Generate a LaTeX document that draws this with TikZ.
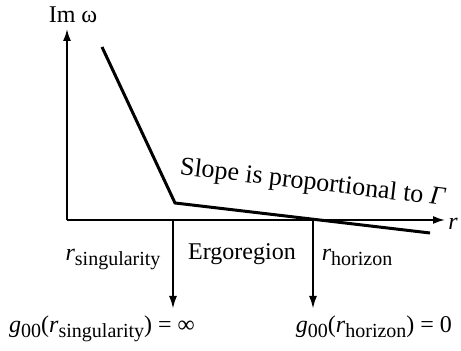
\documentclass[tikz,border=0pt]{standalone}
\usepackage{fontspec}
\setmainfont{Liberation Serif}
\usepackage{tikz}
\usetikzlibrary{arrows.meta}
\newcommand{\lowsub}[1]{\raisebox{-0.45ex}{\fontsize{10}{12}\selectfont #1}}

\begin{document}
\begin{tikzpicture}[x=0.5pt,y=0.5pt,
    axis/.style={line width=0.9pt,-{Latex[length=6pt,width=4pt]}},
    curve/.style={line width=1.5pt},
    drop/.style={line width=1.1pt,-{Latex[length=6.5pt,width=4pt]}},
    lbl/.style={font=\fontsize{12}{14}\selectfont,inner sep=0pt}]
  \useasboundingbox (0,0) rectangle (461,351);
  % axes
  \coordinate (o) at (67,131);
  \coordinate (ytip) at (67,322);
  \coordinate (xtip) at (445,131);
  \draw[axis] (o)--(ytip);
  \draw[axis] (o)--(xtip);
  \node[lbl] (imw) at (73,336) {Im ω};
  \node[lbl] (rax) at (453,127) {\textit{r}};
  % the bent line
  \coordinate (top) at (102,304);
  \coordinate (bend) at (175,148);
  \coordinate (tail) at (430,118);
  \draw[curve] (top)--(bend)--(tail);
  \node[lbl,font=\fontsize{13}{15}\selectfont,anchor=base,rotate=-6.7] (slope) at (312,161) {Slope is proportional to \textit{Γ}};
  % singularity and horizon
  \coordinate (s0) at (173,131);
  \coordinate (h0) at (313,131);
  \node[lbl,anchor=base] (gs) at (102,18) {\textit{g}\lowsub{00}(\textit{r}\lowsub{singularity}) = ∞};
  \node[lbl,anchor=base] (gh) at (374,18) {\textit{g}\lowsub{00}(\textit{r}\lowsub{horizon}) = 0};
  \draw[drop] (s0)--(173,42);
  \draw[drop] (h0)--(313,42);
  \node[lbl,anchor=base] (rs) at (113,90) {\textit{r}\lowsub{singularity}};
  \node[lbl,anchor=base] (ergo) at (242,91) {Ergoregion};
  \node[lbl,anchor=base] (rh) at (357,90) {\textit{r}\lowsub{horizon}};
\end{tikzpicture}
\end{document}
